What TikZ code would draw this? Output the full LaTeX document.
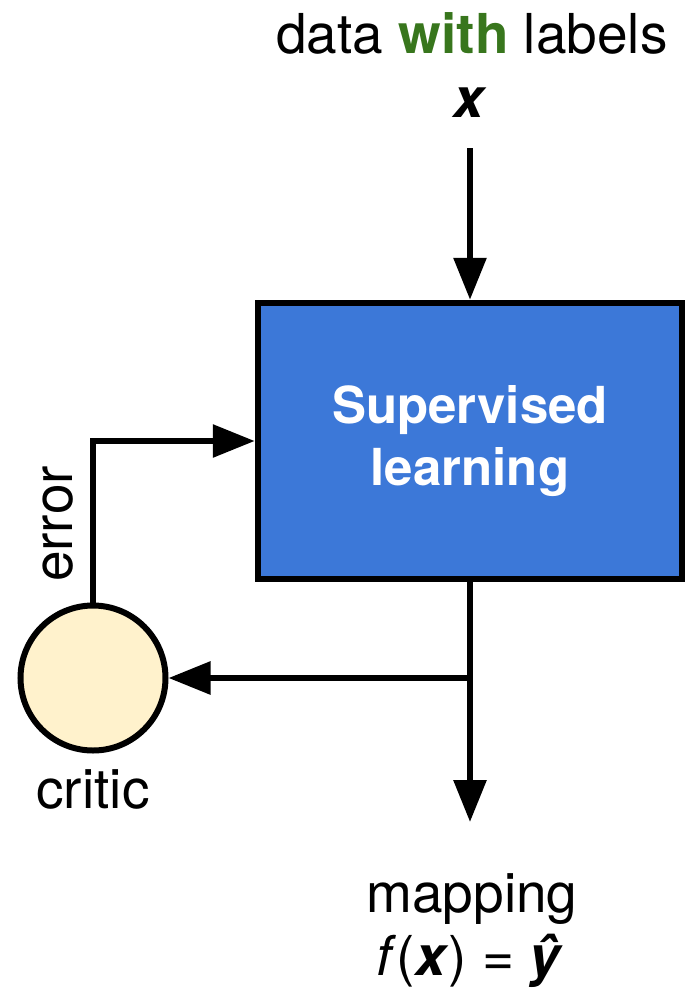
\documentclass[tikz,border=0pt]{standalone}
\usepackage{fontspec}
\setmainfont{TeX Gyre Heros}
\usetikzlibrary{arrows.meta}
\definecolor{boxblue}{HTML}{3C78D8}
\definecolor{criticfill}{HTML}{FFF2CC}
\definecolor{withgreen}{HTML}{38761D}
\tikzset{
  lbl/.style={font=\fontsize{55}{62}\selectfont, inner sep=0pt, anchor=base},
  slbox/.style={draw=black, line width=6.5pt, fill=boxblue, minimum width=424pt,
    minimum height=276pt, text=white, align=center,
    font=\fontsize{51}{62}\selectfont\bfseries},
  criticnode/.style={circle, draw=black, line width=6pt, fill=criticfill, minimum size=145pt, inner sep=0pt},
  arr/.style={line width=6pt, -{Triangle[length=42pt,width=32pt]}},
}
\begin{document}
\begin{tikzpicture}[x=1pt,y=-1pt]
  \useasboundingbox (0,0) rectangle (686,991);

  % input label
  \node[lbl] (datain) at (472,53) {data \textcolor{withgreen}{\textbf{with}} labels};
  \node[lbl] (xin) at (470,117) {\textbf{\textit{x}}};
  \coordinate (xtail) at (470,148);

  % learner
  \node[slbox] (sl) at (470,441) {Supervised\\learning};

  % critic
  \node[criticnode] (critic) at (93,678) {};
  \node[lbl] (criticlbl) at (93,808) {critic};

  % outputs
  \coordinate (split) at (470,678);
  \coordinate (out) at (470,822);
  \node[lbl] (maplbl) at (472,912) {mapping};
  \node[lbl] (formula) at (470,975) {\textit{f}(\textbf{\textit{x}}) = \textbf{\textit{ŷ}}};

  % connectors
  \draw[arr] (xtail) -- (sl.north);
  \draw[arr] (sl.south) -- (out);
  \draw[arr] (split) -- (critic.east);
  \draw[arr] (critic.north) |- (sl.west);
  \node[lbl, rotate=90] (errlbl) at (72,524) {error};
\end{tikzpicture}
\end{document}
